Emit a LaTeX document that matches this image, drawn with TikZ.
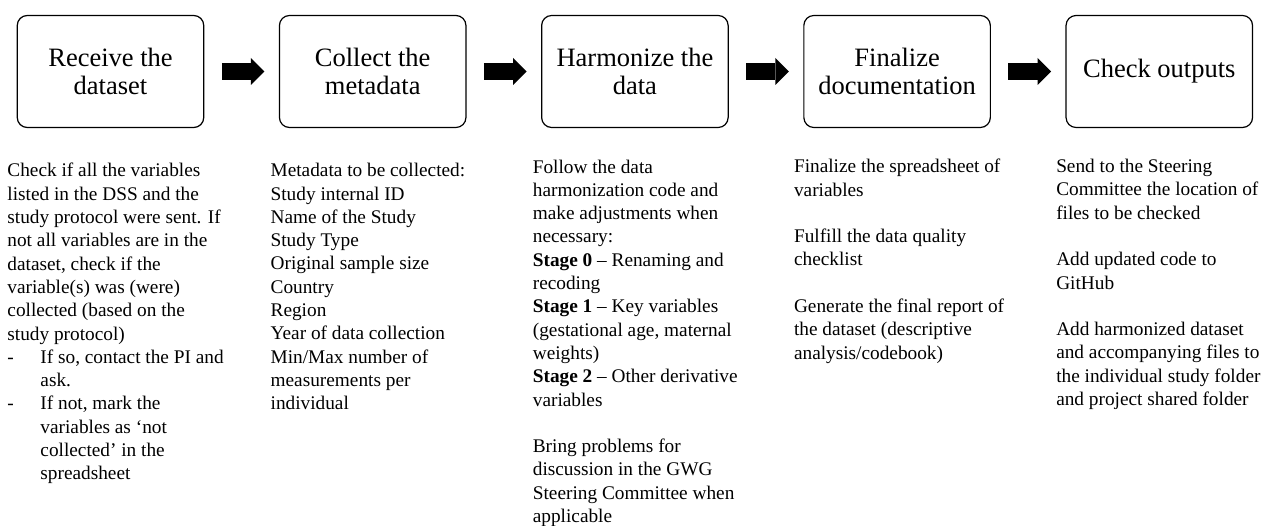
\documentclass[tikz,border=0pt]{standalone}
\usepackage{fontspec}
\setmainfont{Liberation Serif}
\usetikzlibrary{positioning,arrows.meta}

\begin{document}
\begin{tikzpicture}[
  x=1pt,y=-1pt,
  stagebox/.style={draw,rounded corners=10pt,line width=1.2pt,outer sep=0pt,minimum width=186.5pt,minimum height=112pt,align=center,inner sep=0pt,font=\fontsize{26.5}{28}\selectfont},
  note/.style={anchor=north west,align=left,inner sep=0pt,font=\fontsize{19.3}{23.3}\selectfont},
  flow/.style={line width=17pt,-{Triangle[length=13.5pt,width=27pt,line width=0pt]},shorten <=18pt,shorten >=15pt}
]
\useasboundingbox (0,0) rectangle (1262,526);

\node[stagebox] (receive) at (110.5,71.5) {Receive the\\dataset};
\node[stagebox,right=75.7pt of receive] (collect) {Collect the\\metadata};
\node[stagebox,right=75.7pt of collect] (harmonize) {Harmonize the\\data};
\node[stagebox,right=75.7pt of harmonize] (finalize) {Finalize\\documentation};
\node[stagebox,right=75.7pt of finalize] (check) {Check outputs};

\draw[flow] (receive) -- (collect);
\draw[flow] (collect) -- (harmonize);
\draw[flow] (harmonize) -- (finalize);
\draw[flow] (finalize) -- (check);

\node[note] (receivenote) at ([xshift=-10pt,yshift=-35.7pt]receive.south west) {%
Check if all the variables\\
listed in the DSS and the\\
study protocol were sent. If\\
not all variables are in the\\
dataset, check if the\\
variable(s) was (were)\\
collected (based on the\\
study protocol)\\
\makebox[33pt][l]{-}If so, contact the PI and\\
\hspace*{33pt}ask.\\
\makebox[33pt][l]{-}If not, mark the\\
\hspace*{33pt}variables as ‘not\\
\hspace*{33pt}collected’ in the\\
\hspace*{33pt}spreadsheet};

\node[note] (collectnote) at ([xshift=-9pt,yshift=-35.7pt]collect.south west) {%
Metadata to be collected:\\
Study internal ID\\
Name of the Study\\
Study Type\\
Original sample size\\
Country\\
Region\\
Year of data collection\\
Min/Max number of\\
measurements per\\
individual};

\node[note] (harmonizenote) at ([xshift=-9pt,yshift=-32pt]harmonize.south west) {%
Follow the data\\
harmonization code and\\
make adjustments when\\
necessary:\\
\textbf{Stage 0} – Renaming and\\
recoding\\
\textbf{Stage 1} – Key variables\\
(gestational age, maternal\\
weights)\\
\textbf{Stage 2} – Other derivative\\
variables\\[23.3pt]
Bring problems for\\
discussion in the GWG\\
Steering Committee when\\
applicable};

\node[note] (finalizenote) at ([xshift=-10pt,yshift=-31.5pt]finalize.south west) {%
Finalize the spreadsheet of\\
variables\\[23.3pt]
Fulfill the data quality\\
checklist\\[23.3pt]
Generate the final report of\\
the dataset (descriptive\\
analysis/codebook)};

\node[note] (checknote) at ([xshift=-10pt,yshift=-31.5pt]check.south west) {%
Send to the Steering\\
Committee the location of\\
files to be checked\\[23.3pt]
Add updated code to\\
GitHub\\[23.3pt]
Add harmonized dataset\\
and accompanying files to\\
the individual study folder\\
and project shared folder};
\end{tikzpicture}
\end{document}
